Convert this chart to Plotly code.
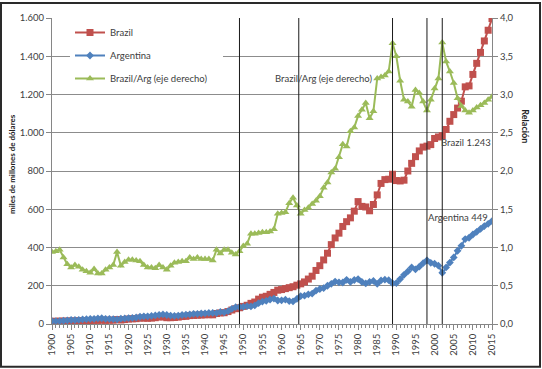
import plotly.graph_objects as go

years = list(range(1900, 2016))

brazil = [
    14, 14, 15, 15, 15, 16, 16, 17, 17, 17,
    18, 19, 19, 20, 19, 20, 20, 23, 21, 23,
    26, 27, 28, 31, 31, 30, 31, 33, 37, 37,
    33, 33, 34, 36, 39, 40, 44, 45, 46, 47,
    48, 49, 48, 55, 58, 59, 65, 73, 80, 85,
    92, 98, 108, 115, 130, 140, 145, 155, 165, 177,
    180, 185, 190, 195, 203, 210, 220, 235, 250, 280,
    305, 335, 370, 415, 450, 475, 510, 535, 555, 590,
    640, 615, 612, 592, 625, 675, 735, 755, 757, 783,
    750, 748, 752, 800, 840, 875, 905, 925, 930, 938,
    970, 978, 985, 1017, 1060, 1095, 1129, 1165, 1240, 1245,
    1305, 1363, 1420, 1480, 1536, 1597,
]

argentina = [
    15, 15, 15, 17, 19, 21, 21, 22, 24, 25,
    27, 27, 29, 30, 27, 27, 26, 24, 28, 29,
    31, 32, 34, 38, 40, 40, 42, 45, 48, 50,
    47, 44, 42, 44, 47, 49, 50, 53, 53, 55,
    56, 58, 58, 57, 63, 61, 67, 79, 88, 89,
    90, 93, 92, 97, 109, 117, 121, 128, 133, 123,
    124, 127, 120, 118, 131, 146, 148, 155, 159, 174,
    183, 188, 200, 210, 222, 218, 217, 231, 220, 230,
    235, 220, 212, 220, 225, 210, 228, 232, 229, 213,
    214, 235, 257, 275, 296, 286, 300, 318, 333, 320,
    315, 305, 268, 296, 321, 348, 383, 409, 444, 451,
    468, 482, 497, 512, 524, 538,
]

ratio = [
    0.94, 0.95, 0.97, 0.87, 0.78, 0.74, 0.77, 0.75, 0.71, 0.69,
    0.67, 0.72, 0.66, 0.66, 0.71, 0.74, 0.77, 0.94, 0.76, 0.81,
    0.84, 0.84, 0.83, 0.82, 0.77, 0.74, 0.74, 0.73, 0.77, 0.74,
    0.71, 0.76, 0.80, 0.81, 0.82, 0.82, 0.87, 0.85, 0.87, 0.85,
    0.85, 0.85, 0.83, 0.97, 0.92, 0.97, 0.97, 0.93, 0.91, 0.95,
    1.02, 1.05, 1.18, 1.18, 1.19, 1.20, 1.20, 1.21, 1.24, 1.44,
    1.45, 1.46, 1.58, 1.65, 1.55, 1.44, 1.49, 1.52, 1.57, 1.61,
    1.67, 1.78, 1.85, 1.98, 2.03, 2.18, 2.35, 2.32, 2.52, 2.57,
    2.72, 2.80, 2.89, 2.69, 2.78, 3.21, 3.23, 3.25, 3.30, 3.67,
    3.50, 3.18, 2.93, 2.91, 2.84, 3.06, 3.02, 2.91, 2.79, 2.93,
    3.08, 3.21, 3.68, 3.43, 3.30, 3.15, 2.95, 2.85, 2.79, 2.76,
    2.79, 2.83, 2.86, 2.89, 2.93, 2.97,
]

event_years = [1949, 1964.5, 1989, 1998, 2002]

series_names = ["Brazil", "Argentina", "Brazil/Arg (eje derecho)"]
left_title = "miles de millones de dólares"
right_title = "Relación"
label_ratio = "Brazil/Arg (eje derecho)"
label_brazil = "Brazil 1.243"
label_arg = "Argentina 449"

RED = "#C0504D"
BLUE = "#4F81BD"
GREEN = "#9BBB59"
FONT = "Lato"
TXT = "#404040"
FS = 9.5

fig = go.Figure()
fig.add_trace(go.Scatter(
    x=years, y=brazil, name=series_names[0], mode="lines+markers",
    line=dict(color=RED, width=2), marker=dict(symbol="square", size=7, color=RED),
    legendgroup="a",
))
fig.add_trace(go.Scatter(
    x=years, y=argentina, name=series_names[1], mode="lines+markers",
    line=dict(color=BLUE, width=2), marker=dict(symbol="diamond", size=6, color=BLUE),
    legendgroup="b",
))
fig.add_trace(go.Scatter(
    x=years, y=ratio, name=series_names[2], mode="lines+markers", yaxis="y2",
    line=dict(color=GREEN, width=2), marker=dict(symbol="triangle-up", size=7, color=GREEN),
    legendgroup="c",
))

L, R, T, B = 52, 50, 16, 45
W, H = 542, 369
pw, ph = W - L - R, H - T - B

def px(xp):
    return (xp - L) / pw

def py(yp):
    return (H - B - yp) / ph

shapes = []
for ey in event_years:
    shapes.append(dict(type="line", xref="x", yref="paper", x0=ey, x1=ey, y0=0, y1=1,
                       line=dict(color="#1a1a1a", width=1), layer="above"))
# white legend background box
shapes.append(dict(type="rect", xref="paper", yref="paper", x0=px(70), x1=px(223),
                   y0=py(90), y1=py(18), fillcolor="white", line=dict(width=0), layer="above"))
# outer frame
shapes.append(dict(type="rect", xref="paper", yref="paper", x0=px(1), x1=px(540),
                   y0=py(367), y1=py(1), line=dict(color="#2a2a2a", width=2), layer="above"))

annotations = [
    dict(text=label_ratio, xref="paper", yref="paper", x=px(374), y=py(77),
         xanchor="right", yanchor="middle", showarrow=False, font=dict(size=FS, color=TXT, family=FONT)),
    dict(text=label_brazil, xref="paper", yref="paper", x=px(439), y=py(141),
         xanchor="left", yanchor="middle", showarrow=False, font=dict(size=FS, color=TXT, family=FONT)),
    dict(text=label_arg, xref="paper", yref="paper", x=px(426), y=py(217),
         xanchor="left", yanchor="middle", showarrow=False, font=dict(size=FS, color=TXT, family=FONT)),
    dict(text="<b>" + left_title + "</b>", xref="paper", yref="paper", x=px(12), y=py(163),
         xanchor="center", yanchor="middle", textangle=-90, showarrow=False,
         font=dict(size=8, color="#222222", family=FONT)),
    dict(text="<b>" + right_title + "</b>", xref="paper", yref="paper", x=px(526), y=py(125),
         xanchor="center", yanchor="middle", textangle=90, showarrow=False,
         font=dict(size=9, color="#222222", family=FONT)),
]

fig.update_layout(
    width=W, height=H,
    margin=dict(l=L, r=R, t=T, b=B, pad=0),
    paper_bgcolor="white", plot_bgcolor="white",
    separators=",.",
    font=dict(family=FONT, size=FS, color=TXT),
    showlegend=True,
    legend=dict(x=px(70), y=py(16), xanchor="left", yanchor="top",
                bgcolor="rgba(0,0,0,0)", borderwidth=0, tracegroupgap=4,
                font=dict(size=FS, color=TXT, family=FONT)),
    xaxis=dict(range=[1900, 2015], tickmode="linear", tick0=1900, dtick=5,
               tickangle=-90, ticks="outside", ticklen=5, tickcolor="#868686",
               showline=True, linecolor="#868686", showgrid=False, zeroline=False,
               minor=dict(dtick=1, ticks="outside", ticklen=3, tickcolor="#868686", showgrid=False),
               tickfont=dict(size=FS, color=TXT, family=FONT)),
    yaxis=dict(range=[0, 1600], dtick=200, tickformat=",.0f", ticks="outside", ticklen=5,
               tickcolor="#868686", showline=True, linecolor="#868686",
               showgrid=True, gridcolor="#8c8c8c", gridwidth=1, zeroline=False,
               tickfont=dict(size=FS, color=TXT, family=FONT)),
    yaxis2=dict(range=[0, 4], dtick=0.5, tickformat=".1f", overlaying="y", side="right",
                ticks="outside", ticklen=5, tickcolor="#868686", showline=True,
                linecolor="#868686", showgrid=False, zeroline=False,
                tickfont=dict(size=FS, color=TXT, family=FONT)),
    shapes=shapes,
    annotations=annotations,
)

fig.write_html("out.html", config={"displayModeBar": False},
               post_script="document.body.style.margin='0';document.body.style.overflow='hidden';")
